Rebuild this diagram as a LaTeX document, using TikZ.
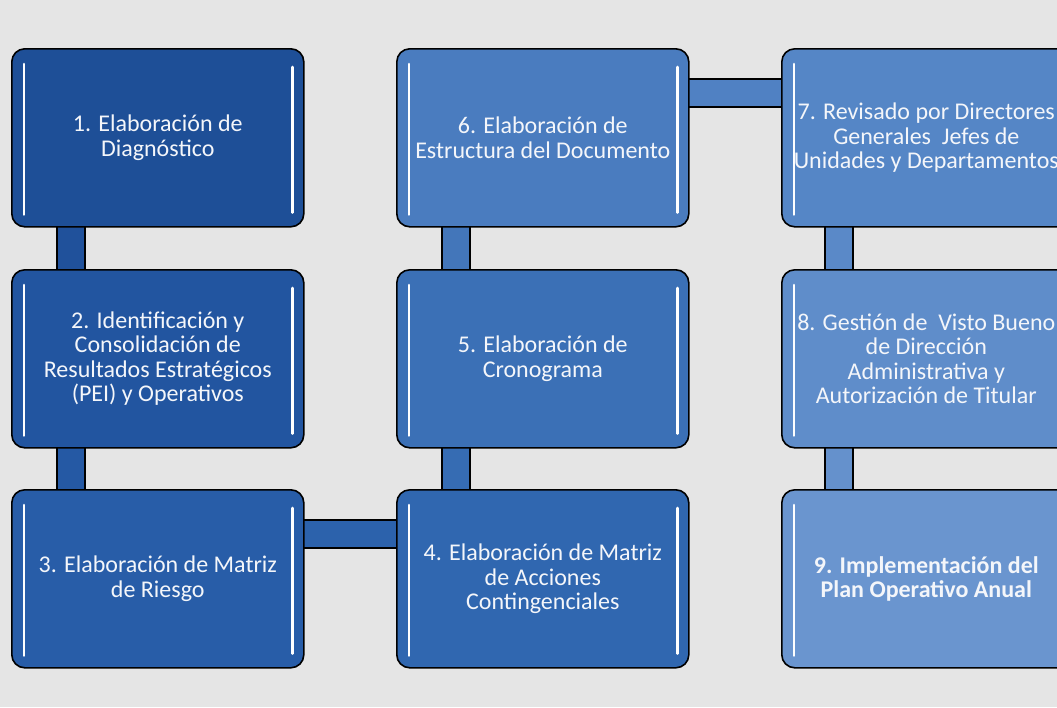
\documentclass[tikz,border=0pt]{standalone}
\usepackage{fontspec}
\setmainfont{Carlito}
\pgfdeclarelayer{back}
\pgfdeclarelayer{bg}
\pgfsetlayers{back,bg,main}
\definecolor{paper}{HTML}{E5E5E5}
\definecolor{cA}{HTML}{1E4F97}
\definecolor{cB}{HTML}{2255A0}
\definecolor{cC}{HTML}{285DA8}
\definecolor{cD}{HTML}{3067B0}
\definecolor{cE}{HTML}{3B70B6}
\definecolor{cF}{HTML}{4A7CBF}
\definecolor{cG}{HTML}{5586C6}
\definecolor{cH}{HTML}{5F8DCA}
\definecolor{cI}{HTML}{6A95CF}
\definecolor{txt}{HTML}{F4F6FA}
\tikzset{
  stagebox/.style={draw=black, line width=1.6pt, rounded corners=13pt,
    minimum width=292pt, minimum height=178pt, anchor=north west,
    text=txt, align=center, inner sep=0pt,
    font=\fontsize{24}{24.5}\selectfont},
  gloss/.style={draw=white, line width=2.6pt, line cap=round},
  link/.style={draw=black, line width=1.4pt, double distance=26.5pt}
}
\newcommand\glints[1]{%
  \draw[gloss] ([xshift=13pt,yshift=-16pt]#1.north west) -- ([xshift=13pt,yshift=13pt]#1.south west);
  \draw[gloss] ([xshift=-12pt,yshift=-19pt]#1.north east) -- ([xshift=-12pt,yshift=15pt]#1.south east);
}
\begin{document}
\begin{tikzpicture}[x=1pt,y=-1pt]
\begin{pgfonlayer}{back}
\fill[paper] (0,0) rectangle (1057,707);
\end{pgfonlayer}
\useasboundingbox (0,0) rectangle (1057,707);
\clip (0,0) rectangle (1057,707);

\node[stagebox, fill=cA] (b1) at (11,48) {1. Elaboración de\\Diagnóstico};
\node[stagebox, fill=cB] (b2) at (11,269) {2. Identificación y\\Consolidación de\\Resultados Estratégicos\\(PEI) y Operativos};
\node[stagebox, fill=cC] (b3) at (11,489) {3. Elaboración de Matriz\\de Riesgo};
\node[stagebox, fill=cD] (b4) at (396,489) {4. Elaboración de Matriz\\de Acciones\\Contingenciales};
\node[stagebox, fill=cE] (b5) at (396,269) {5. Elaboración de\\Cronograma};
\node[stagebox, fill=cF] (b6) at (396,48) {6. Elaboración de\\Estructura del Documento};
\node[stagebox, fill=cG, minimum width=289pt] (b7) at (781,48) {7. Revisado por Directores\\Generales\ \ Jefes de\\Unidades y Departamentos};
\node[stagebox, fill=cH, minimum width=289pt] (b8) at (781,269) {8. Gestión de\ \ Visto Bueno\\de Dirección\\Administrativa y\\Autorización de Titular};
\node[stagebox, fill=cI, minimum width=289pt, font=\fontsize{24}{24.5}\selectfont\bfseries] (b9) at (781,489) {9. Implementación del\\Plan Operativo Anual};

\foreach \b in {b1,b2,b3,b4,b5,b6,b7,b8,b9} {\glints{\b}}

\begin{pgfonlayer}{bg}
\draw[link, double=cA!60!cB] ([xshift=60pt,yshift=2pt]b1.south west) -- ([xshift=60pt,yshift=-2pt]b2.north west);
\draw[link, double=cB!50!cC] ([xshift=60pt,yshift=2pt]b2.south west) -- ([xshift=60pt,yshift=-2pt]b3.north west);
\draw[link, double=cC!50!cD] ([xshift=-2pt,yshift=-45pt]b3.north east) -- ([xshift=2pt,yshift=-45pt]b4.north west);
\draw[link, double=cD!50!cE] ([xshift=60pt,yshift=-2pt]b4.north west) -- ([xshift=60pt,yshift=2pt]b5.south west);
\draw[link, double=cE!50!cF] ([xshift=60pt,yshift=-2pt]b5.north west) -- ([xshift=60pt,yshift=2pt]b6.south west);
\draw[link, double=cF!50!cG] ([xshift=-2pt,yshift=-45pt]b6.north east) -- ([xshift=2pt,yshift=-45pt]b7.north west);
\draw[link, double=cG!50!cH] ([xshift=58pt,yshift=2pt]b7.south west) -- ([xshift=58pt,yshift=-2pt]b8.north west);
\draw[link, double=cH!50!cI] ([xshift=58pt,yshift=2pt]b8.south west) -- ([xshift=58pt,yshift=-2pt]b9.north west);
\end{pgfonlayer}
\end{tikzpicture}
\end{document}
